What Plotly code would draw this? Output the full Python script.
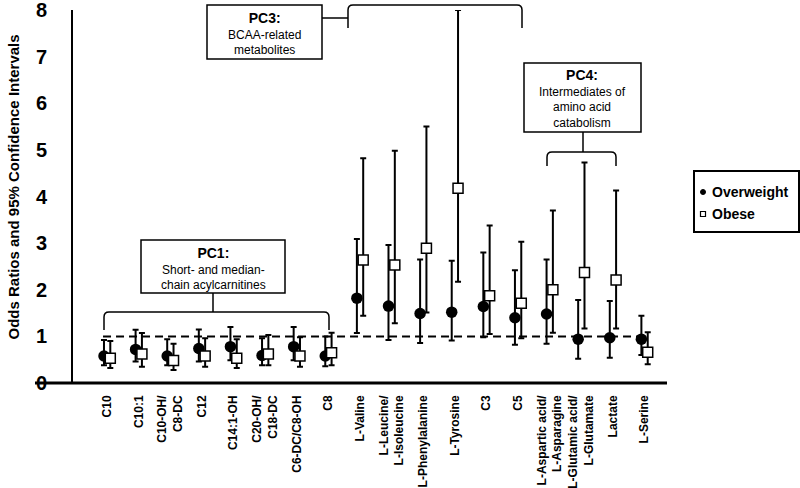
import plotly.graph_objects as go

# data
categories = ["C10", "C10:1", "C10-OH/<br>C8-DC", "C12", "C14:1-OH", "C20-OH/<br>C18-DC",
              "C6-DC/C8-OH", "C8", "L-Valine", "L-Leucine/<br>L-Isoleucine", "L-Phenylalanine",
              "L-Tyrosine", "C3", "C5", "L-Aspartic acid/<br>L-Asparagine",
              "L-Glutamic acid/<br>L-Glutamate", "Lactate", "L-Serine"]

ow_or = [0.58, 0.72, 0.58, 0.74, 0.78, 0.59, 0.78, 0.58, 1.82, 1.65, 1.49, 1.52, 1.64, 1.40, 1.48, 0.94, 0.97, 0.94]
ow_hi = [0.92, 1.14, 0.94, 1.15, 1.20, 0.96, 1.20, 1.00, 3.09, 2.96, 2.65, 2.62, 2.80, 2.42, 2.65, 1.78, 1.76, 1.44]
ow_lo = [0.38, 0.46, 0.38, 0.46, 0.49, 0.38, 0.49, 0.36, 1.07, 0.92, 0.86, 0.91, 0.98, 0.82, 0.84, 0.52, 0.54, 0.60]

ob_or = [0.53, 0.62, 0.48, 0.58, 0.53, 0.62, 0.58, 0.65, 2.64, 2.53, 2.89, 4.18, 1.87, 1.71, 2.00, 2.37, 2.21, 0.66]
ob_hi = [0.90, 1.07, 0.84, 0.96, 0.94, 1.03, 0.98, 1.08, 4.82, 4.98, 5.50, 8.00, 3.38, 3.03, 3.70, 4.73, 4.13, 1.09]
ob_lo = [0.32, 0.35, 0.28, 0.35, 0.32, 0.38, 0.35, 0.38, 1.44, 1.28, 1.51, 2.17, 1.05, 0.96, 1.08, 1.17, 1.17, 0.40]

yticks = [0, 1, 2, 3, 4, 5, 6, 7, 8]

FONT = "Liberation Sans, Arial, sans-serif"

# plot area in pixels
L, R, T, B = 73, 667, 10, 383


def fx(x):
    return (x - L) / (R - L)


def fy(y):
    return (B - y) / (B - T)


idx = list(range(len(categories)))

fig = go.Figure()

fig.add_trace(go.Scatter(
    x=[i - 0.1 for i in idx], y=ow_or, mode="markers", name="Overweight",
    marker=dict(symbol="circle", size=11.5, color="black"),
    error_y=dict(type="data", symmetric=False,
                 array=[h - v for h, v in zip(ow_hi, ow_or)],
                 arrayminus=[v - l for v, l in zip(ow_or, ow_lo)],
                 color="black", thickness=2, width=3),
    cliponaxis=False,
))
fig.add_trace(go.Scatter(
    x=[i + 0.1 for i in idx], y=ob_or, mode="markers", name="Obese",
    marker=dict(symbol="square", size=10, color="white", line=dict(color="black", width=1.5)),
    error_y=dict(type="data", symmetric=False,
                 array=[h - v for h, v in zip(ob_hi, ob_or)],
                 arrayminus=[v - l for v, l in zip(ob_or, ob_lo)],
                 color="black", thickness=2, width=3),
    cliponaxis=False,
))

shapes = []
# reference line at OR = 1
shapes.append(dict(type="line", xref="x", yref="y", x0=-0.13, x1=16.86, y0=1, y1=1,
                   line=dict(color="black", width=2, dash="8px,5px"), layer="below"))
# x axis line, running through the 0 label
shapes.append(dict(type="line", xref="paper", yref="paper", x0=fx(35), x1=1, y0=0, y1=0,
                   line=dict(color="black", width=3)))


def box(x0, y0, x1, y1, width=1.5, fill="white"):
    return dict(type="rect", xref="paper", yref="paper", x0=fx(x0), x1=fx(x1), y0=fy(y0), y1=fy(y1),
                line=dict(color="black", width=width), fillcolor=fill)


def seg(x0, y0, x1, y1):
    return dict(type="line", xref="paper", yref="paper", x0=fx(x0), x1=fx(x1), y0=fy(y0), y1=fy(y1),
                line=dict(color="black", width=1.5))


def bracket(x0, x1, yh, yend, r=5):
    # bracket with rounded corners, legs pointing toward yend
    s = 1 if yend > yh else -1
    pts = (f"M {fx(x0)},{fy(yend)} L {fx(x0)},{fy(yh + s * r)} "
           f"Q {fx(x0)},{fy(yh)} {fx(x0 + r)},{fy(yh)} "
           f"L {fx(x1 - r)},{fy(yh)} "
           f"Q {fx(x1)},{fy(yh)} {fx(x1)},{fy(yh + s * r)} "
           f"L {fx(x1)},{fy(yend)}")
    return dict(type="path", xref="paper", yref="paper", path=pts,
                line=dict(color="black", width=1.5))


# PC1
shapes += [box(141, 240, 285, 293), seg(213, 293, 213, 312), bracket(104, 329, 312, 330)]
# PC3
shapes += [box(207, 5, 322, 59), seg(322, 18, 348, 18), bracket(348, 522, 5, 28)]
# PC4
shapes += [box(524, 63, 641, 132), seg(583, 132, 583, 152), bracket(547, 616, 152, 166)]

# legend drawn by hand so it stays as compact as the original
shapes.append(box(694, 171, 799, 232, width=2))
shapes.append(dict(type="circle", xref="paper", yref="paper",
                   x0=fx(700.5), x1=fx(705.5), y0=fy(189.5), y1=fy(194.5),
                   line=dict(color="black", width=1), fillcolor="black"))
shapes.append(box(700.5, 211.5, 705.5, 216.5, width=1.2))

head = '<span style="font-size:14px"><b>{}</b></span>'
note_font = dict(family=FONT, size=12, color="black")
leg_font = dict(family=FONT, size=14, color="black")
annotations = [
    dict(xref="paper", yref="paper", x=fx(213), y=fy(268), showarrow=False,
         xanchor="center", yanchor="middle", font=note_font,
         text=head.format("PC1:") + "<br>Short- and median-<br>chain acylcarnitines"),
    dict(xref="paper", yref="paper", x=fx(264.5), y=fy(33), showarrow=False,
         xanchor="center", yanchor="middle", font=note_font,
         text=head.format("PC3:") + "<br>BCAA-related<br>metabolites"),
    dict(xref="paper", yref="paper", x=fx(582.5), y=fy(98.5), showarrow=False,
         xanchor="center", yanchor="middle", font=note_font,
         text=head.format("PC4:") + "<br>Intermediates of<br>amino acid<br>catabolism"),
    dict(xref="paper", yref="paper", x=fx(13), y=fy(187.5), showarrow=False, textangle=-90,
         xanchor="center", yanchor="middle",
         text="<b>Odds Ratios and 95% Confidence Intervals</b>",
         font=dict(family=FONT, size=15, color="black")),
    dict(xref="paper", yref="paper", x=fx(710), y=fy(192), showarrow=False,
         xanchor="left", yanchor="middle", font=leg_font, text="<b>Overweight</b>"),
    dict(xref="paper", yref="paper", x=fx(710), y=fy(214), showarrow=False,
         xanchor="left", yanchor="middle", font=leg_font, text="<b>Obese</b>"),
]

fig.update_layout(
    width=800, height=488,
    margin=dict(l=L, r=800 - R, t=T, b=488 - B, autoexpand=False),
    plot_bgcolor="white", paper_bgcolor="white",
    font=dict(family=FONT, color="black"),
    showlegend=False,
    shapes=shapes,
    annotations=annotations,
)
fig.update_xaxes(range=[-1.08, 17.71], tickmode="array", tickvals=idx,
                 ticktext=[f"<b>{c}</b>" for c in categories], tickangle=-90,
                 tickfont=dict(family=FONT, size=12, color="black"),
                 showgrid=False, zeroline=False, showline=False, ticks="",
                 ticklabelstandoff=9, automargin=False)
fig.update_yaxes(range=[0, 8.001], tickmode="array", tickvals=yticks,
                 ticktext=[f"<b>{v}</b>" for v in yticks],
                 tickfont=dict(family=FONT, size=20, color="black"),
                 showgrid=False, zeroline=False, showline=True, linecolor="black", linewidth=2,
                 ticks="", ticklabelstandoff=20, ticklabeloverflow="allow", automargin=False)

# drop the page's default body margin so the figure sits at the window's corner
fig.write_html("out.html", config={"displayModeBar": False},
               post_script="document.body.style.margin='0';")
